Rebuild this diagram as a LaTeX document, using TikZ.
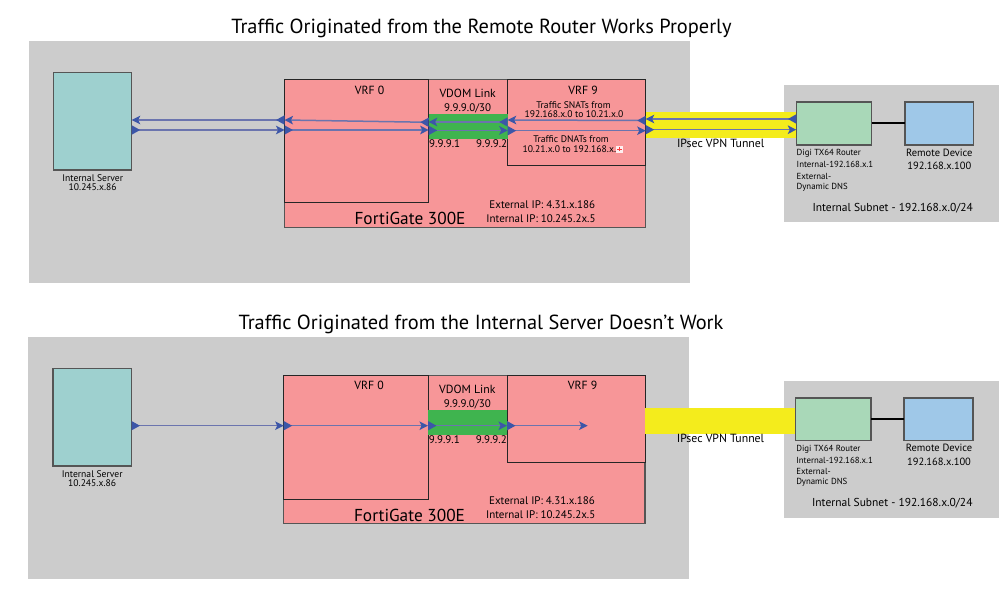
\documentclass[tikz,border=0pt]{standalone}
\usepackage{fontspec}
\setmainfont{PT Sans}
\usetikzlibrary{arrows.meta}
\definecolor{panelgray}{HTML}{CCCCCC}
\definecolor{fgpink}{HTML}{F79698}
\definecolor{linkgreen}{HTML}{3FB44F}
\definecolor{tunnelyellow}{HTML}{F4EC1C}
\definecolor{srvteal}{HTML}{9ED0CF}
\definecolor{rtrgreen}{HTML}{A9D8B8}
\definecolor{devblue}{HTML}{9FC8E8}
\definecolor{flowline}{HTML}{6B74AE}
\definecolor{flowhead}{HTML}{3C56A8}
\definecolor{edgegray}{HTML}{555555}
\tikzset{
  x=1pt,y=-1pt,
  zone/.style={anchor=north west,inner sep=0pt,outer sep=0pt,fill=panelgray},
  band/.style={anchor=north west,inner sep=0pt,outer sep=0pt},
  unit/.style={anchor=north west,inner sep=0pt,outer sep=0pt,draw=edgegray,line width=1.2pt},
  vrfbox/.style={anchor=north west,inner sep=0pt,outer sep=0pt,draw=black!85,line width=1pt},
  flow/.style={draw=flowline,line width=1.5pt,
    {Triangle[reversed,length=8.5pt,width=9pt,color=flowhead]}-{Stealth[length=8.5pt,width=8.5pt,inset=2pt,color=flowhead]}},
  wire/.style={draw=black,line width=2pt},
  lab/.style={inner sep=0pt,outer sep=0pt,align=center,text=black},
  title/.style={lab,font=\fontsize{20.4}{24}\selectfont},
  big/.style={lab,font=\fontsize{17.3}{21}\selectfont},
  mid/.style={lab,font=\fontsize{11}{13}\selectfont},
  head/.style={lab,font=\fontsize{11.8}{14}\selectfont},
  sub/.style={lab,font=\fontsize{11.5}{14}\selectfont},
  dev/.style={lab,font=\fontsize{10.5}{13}\selectfont},
  small/.style={lab,font=\fontsize{9.6}{11}\selectfont},
  srvtxt/.style={lab,font=\fontsize{9.6}{11}\selectfont},
  tiny/.style={lab,font=\fontsize{8.8}{11}\selectfont},
}
\newcommand{\boxat}[7]{\node[#1,fill=#7,minimum width=#5pt-#3pt,minimum height=#6pt-#4pt] (#2) at (#3,#4) {};}
\begin{document}
\begin{tikzpicture}
\useasboundingbox[fill=white] (0,0) rectangle (1008,612);
% ---------- panels
\boxat{zone}{zoneA}{29}{41}{690}{283}{panelgray}
\boxat{zone}{subA}{784}{85}{999}{222}{panelgray}
\boxat{zone}{zoneB}{28}{337}{689}{579}{panelgray}
\boxat{zone}{subB}{784}{381}{999}{518}{panelgray}
% ---------- top diagram
\node[title] (titleA) at (481.5,28) {Traffic Originated from the Remote Router Works Properly};
\boxat{unit}{srvA}{53.5}{72.7}{131.7}{170}{srvteal}
\boxat{unit}{fgA}{284.5}{79.7}{645.7}{227.6}{fgpink}
\boxat{vrfbox}{vrfzA}{284.5}{79.7}{428.7}{203}{fgpink}
\boxat{vrfbox}{vrfnA}{507.7}{79.7}{645.7}{166}{fgpink}
\boxat{band}{linkA}{428.7}{114.3}{507.7}{139}{linkgreen}
\boxat{band}{tunA}{645.7}{112.3}{796.3}{137.7}{tunnelyellow}
\boxat{unit}{rtrA}{796.3}{102}{871.7}{145}{rtrgreen}
\boxat{unit}{devA}{905}{102}{973.7}{145}{devblue}
\draw[wire] (rtrA.east) -- (devA.west);
\coordinate (uA) at (0,120);
\coordinate (uvA) at (0,122.3);
\coordinate (lA) at (0,130);
\coordinate (ugA) at (0,122);
\coordinate (lgA) at (0,130.4);
\coordinate (uvrA) at (0,120.5);
\coordinate (lvA) at (0,130.7);
\coordinate (utA) at (0,119);
\coordinate (ltA) at (0,129.7);
% return direction
\draw[flow] (fgA.west |- uA) -- (srvA.east |- uA);
\draw[flow] (vrfzA.east |- uvA) -- (vrfzA.west |- uA);
\draw[flow] (linkA.east |- ugA) -- (linkA.west |- ugA);
\draw[flow] (vrfnA.east |- uvrA) -- (vrfnA.west |- uA);
\draw[flow] (rtrA.west |- utA) -- (tunA.west |- utA);
% forward direction
\draw[flow] (srvA.east |- lA) -- (fgA.west |- lA);
\draw[flow] (vrfzA.west |- lA) -- (vrfzA.east |- lA);
\draw[flow] (linkA.west |- lgA) -- (linkA.east |- lgA);
\draw[flow] (vrfnA.west |- lvA) -- (vrfnA.east |- lvA);
\draw[flow] (tunA.west |- ltA) -- (rtrA.west |- ltA);
\node[head] (vrfzlabA) at (369.5,90.5) {VRF 0};
\node[head] (vdomA) at (467.7,93) {VDOM Link};
\node[mid] (subnetlinkA) at (467.7,108) {9.9.9.0/30};
\node[head] (vrfnlabA) at (583,90.5) {VRF 9};
\node[small] (snatA) at (573.5,105) {Traffic SNATs from};
\node[small] (snatbA) at (574,114) {192.168.x.0 to 10.21.x.0};
\node[small] (dnatA) at (571,139.6) {Traffic DNATs from};
\node[small] (dnatbA) at (569.3,149) {10.21.x.0 to 192.168.x.};
\node[anchor=center,fill=white!85!fgpink,minimum size=7.5pt,inner sep=0pt] (moreA) at (619.5,149.3) {};
\draw[draw=red!60!fgpink,line width=0.8pt] (moreA.north) ++(0,1.5) -- ++(0,4.5) (moreA.west) ++(1.5,0) -- ++(4.5,0);
\node[mid] (ipaA) at (444.7,143.3) {9.9.9.1};
\node[mid] (ipbA) at (491.7,143.3) {9.9.9.2};
\node[mid] (extA) at (542.3,204.3) {External IP: 4.31.x.186};
\node[mid] (intA) at (541,218.3) {Internal IP: 10.245.2x.5};
\node[big] (fgnameA) at (410,218.7) {FortiGate 300E};
\node[srvtxt] (srvnameA) at (92.7,177.9) {Internal Server};
\node[srvtxt] (srvipA) at (92.7,186.9) {10.245.x.86};
\node[head] (tunlabA) at (720.7,143) {IPsec VPN Tunnel};
\node[tiny,anchor=west] (rtraA) at (796.7,152.9) {Digi TX64 Router};
\node[tiny,anchor=west] (rtrbA) at (796.7,164.2) {Internal-192.168.x.1};
\node[tiny,anchor=west] (rtrcA) at (796.7,176.2) {External-};
\node[tiny,anchor=west] (rtrdA) at (796.7,187.2) {Dynamic DNS};
\node[dev] (devaA) at (939.3,152.6) {Remote Device};
\node[dev] (devbA) at (939.3,165.5) {192.168.x.100};
\node[sub] (snA) at (892.7,208) {Internal Subnet - 192.168.x.0/24};
% ---------- bottom diagram
\node[title] (titleB) at (481,324) {Traffic Originated from the Internal Server Doesn’t Work};
\boxat{unit}{srvB}{53}{368.5}{131.5}{466}{srvteal}
\boxat{unit}{fgB}{283.7}{375.7}{645}{523.7}{fgpink}
\boxat{vrfbox}{vrfzB}{283.7}{375.7}{428}{499.3}{fgpink}
\boxat{vrfbox}{vrfnB}{507}{375.7}{645}{462}{fgpink}
\boxat{band}{linkB}{428}{410.3}{507}{435.3}{linkgreen}
\boxat{band}{tunB}{645}{408.3}{795.7}{433.7}{tunnelyellow}
\boxat{unit}{rtrB}{795.7}{398}{871}{440.7}{rtrgreen}
\boxat{unit}{devB}{904}{398}{973}{440.7}{devblue}
\draw[wire] (rtrB.east) -- (devB.west);
\coordinate (lB) at (0,425.7);
\coordinate (stopB) at (587.7,425.7);
\draw[flow] (srvB.east |- lB) -- (fgB.west |- lB);
\draw[flow] (vrfzB.west |- lB) -- (vrfzB.east |- lB);
\draw[flow] (linkB.west |- lB) -- (linkB.east |- lB);
\draw[flow] (vrfnB.west |- lB) -- (stopB);
\node[head] (vrfzlabB) at (369,385.5) {VRF 0};
\node[head] (vdomB) at (467.3,389) {VDOM Link};
\node[mid] (subnetlinkB) at (467.3,404) {9.9.9.0/30};
\node[head] (vrfnlabB) at (582.5,385.5) {VRF 9};
\node[mid] (ipaB) at (444.3,439.5) {9.9.9.1};
\node[mid] (ipbB) at (491.3,439.5) {9.9.9.2};
\node[mid] (extB) at (542,500.3) {External IP: 4.31.x.186};
\node[mid] (intB) at (540.7,514.3) {Internal IP: 10.245.2x.5};
\node[big] (fgnameB) at (409.5,515) {FortiGate 300E};
\node[srvtxt] (srvnameB) at (92.2,473.9) {Internal Server};
\node[srvtxt] (srvipB) at (92.2,482.9) {10.245.x.86};
\node[head] (tunlabB) at (720.5,438.3) {IPsec VPN Tunnel};
\node[tiny,anchor=west] (rtraB) at (796.3,448.9) {Digi TX64 Router};
\node[tiny,anchor=west] (rtrbB) at (796.3,460.2) {Internal-192.168.x.1};
\node[tiny,anchor=west] (rtrcB) at (796.3,471.2) {External-};
\node[tiny,anchor=west] (rtrdB) at (796.3,482.7) {Dynamic DNS};
\node[dev] (devaB) at (939,448.3) {Remote Device};
\node[dev] (devbB) at (939,461.7) {192.168.x.100};
\node[sub] (snB) at (892.3,503.3) {Internal Subnet - 192.168.x.0/24};
\end{tikzpicture}
\end{document}
